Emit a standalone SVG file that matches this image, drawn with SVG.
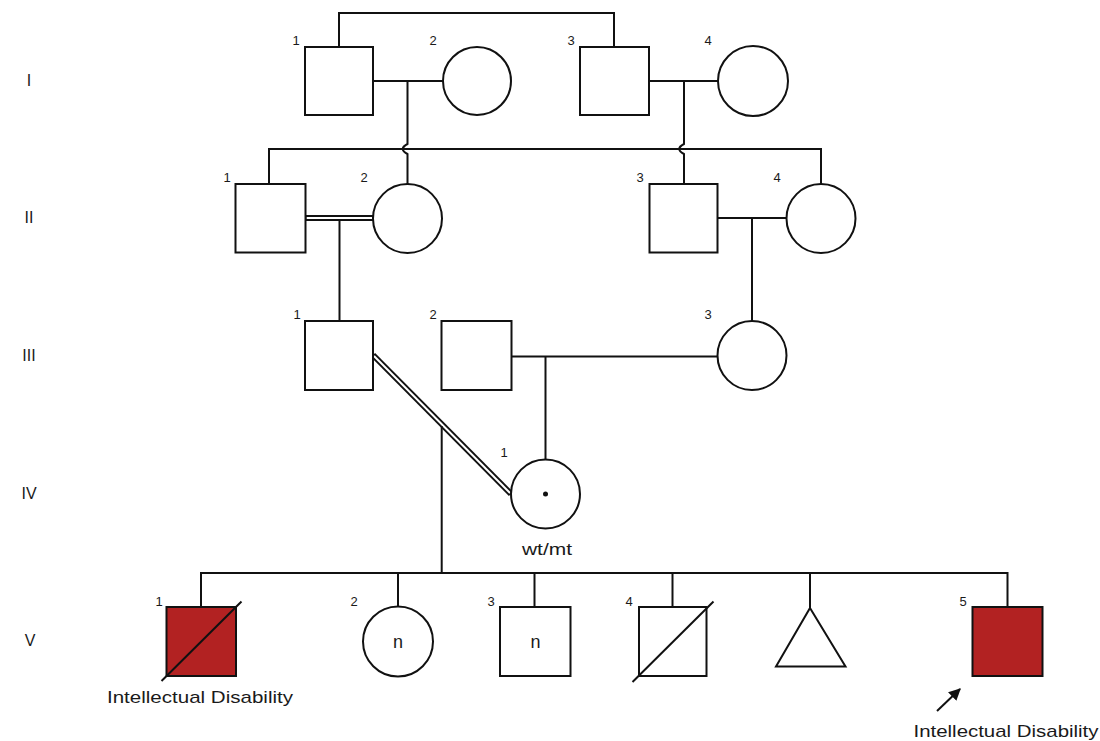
<svg xmlns="http://www.w3.org/2000/svg" width="1100" height="741" viewBox="0 0 1100 741">
<defs>
<style>
.s{fill:#fff;stroke:#111;stroke-width:2}
.a{fill:#b22222;stroke:#111;stroke-width:2}
.l{fill:none;stroke:#111;stroke-width:2}
.num{font-family:"Liberation Sans",Arial,sans-serif;font-size:13px;fill:#1a1a1a;text-anchor:middle}
.gen{font-family:"Liberation Sans",Arial,sans-serif;font-size:16px;fill:#1a1a1a;text-anchor:middle}
.lab{font-family:"Liberation Sans",Arial,sans-serif;font-size:17px;fill:#1a1a1a;text-anchor:middle}
</style>
<marker id="arr" viewBox="0 0 10 10" refX="9" refY="5" markerWidth="6" markerHeight="6" orient="auto" markerUnits="strokeWidth">
<path d="M0,0 L10,5 L0,10 z" fill="#111"/>
</marker>
</defs>
<rect width="1100" height="741" fill="#fff"/>
<g id="generations">
<text class="gen" x="29" y="86">I</text>
<text class="gen" x="29" y="223">II</text>
<text class="gen" x="29" y="361">III</text>
<text class="gen" x="29" y="499">IV</text>
<text class="gen" x="30" y="646">V</text>
</g>
<g id="connectors">
<path class="l" d="M339,47 V13 H614 V47"/>
<path class="l" d="M373,81 H443"/>
<path class="l" d="M407.5,81 V144 Q398,149 407.5,154 V184"/>
<path class="l" d="M649,81 H718"/>
<path class="l" d="M684,81 V144 Q674.5,149 684,154 V184"/>
<path class="l" d="M269,184 V149 H821 V184"/>
<path fill="none" stroke="#111" stroke-width="6" d="M305.5,218 H373"/>
<path fill="none" stroke="#fff" stroke-width="2" d="M306.5,218 H372"/>
<path class="l" d="M339.5,221 V321"/>
<path class="l" d="M717.5,218 H787"/>
<path class="l" d="M752,218 V321"/>
<path class="l" d="M511.5,356.5 H718"/>
<path class="l" d="M545.5,356.5 V460"/>
<path fill="none" stroke="#111" stroke-width="6" d="M373,355 L511,494"/>
<path fill="none" stroke="#fff" stroke-width="2" d="M374,356 L510,493"/>
<path class="l" d="M441.7,426 V573"/>
<path class="l" d="M201,607 V573 H1007.5 V607"/>
<path class="l" d="M398,573 V606"/>
<path class="l" d="M534.5,573 V607"/>
<path class="l" d="M672.5,573 V607"/>
<path class="l" d="M810,573 V608"/>
<path class="l" d="M937,711 L960,689" marker-end="url(#arr)"/>
</g>
<g id="I-1"><rect class="s" x="305" y="47" width="68" height="68"/><text class="num" x="296" y="45">1</text></g>
<g id="I-2"><circle class="s" cx="477" cy="81" r="34"/><text class="num" x="433" y="45">2</text></g>
<g id="I-3"><rect class="s" x="580" y="47" width="69" height="68"/><text class="num" x="571" y="45">3</text></g>
<g id="I-4"><circle class="s" cx="753" cy="81" r="35"/><text class="num" x="708" y="45">4</text></g>
<g id="II-1"><rect class="s" x="235.5" y="184" width="70" height="68.5"/><text class="num" x="227" y="182">1</text></g>
<g id="II-2"><circle class="s" cx="407.5" cy="218.5" r="34.5"/><text class="num" x="364" y="182">2</text></g>
<g id="II-3"><rect class="s" x="649.5" y="184" width="68" height="68.5"/><text class="num" x="640" y="182">3</text></g>
<g id="II-4"><circle class="s" cx="821" cy="218.5" r="34.5"/><text class="num" x="777" y="182">4</text></g>
<g id="III-1"><rect class="s" x="305" y="321" width="68" height="69"/><text class="num" x="297" y="319">1</text></g>
<g id="III-2"><rect class="s" x="441.5" y="321" width="70" height="69"/><text class="num" x="433" y="319">2</text></g>
<g id="III-3"><circle class="s" cx="752" cy="355.5" r="34.5"/><text class="num" x="708" y="319">3</text></g>
<g id="IV-1"><circle class="s" cx="545.5" cy="494" r="34.5"/><circle cx="545.5" cy="494" r="2.5" fill="#111"/><text class="num" x="504" y="457">1</text><text class="lab" x="547" y="555" textLength="50" lengthAdjust="spacingAndGlyphs">wt/mt</text></g>
<g id="V-1"><rect class="a" x="166.5" y="607" width="69.5" height="69"/><path class="l" d="M161.5,681 L241.5,601.5"/><text class="num" x="159" y="606">1</text><text class="lab" x="200" y="703" textLength="186" lengthAdjust="spacingAndGlyphs">Intellectual Disability</text></g>
<g id="V-2"><circle class="s" cx="398" cy="641.5" r="35"/><text class="num" x="354" y="606">2</text><text class="lab" x="398" y="648" style="font-size:18px">n</text></g>
<g id="V-3"><rect class="s" x="500" y="607" width="70.5" height="69"/><text class="num" x="491" y="606">3</text><text class="lab" x="535.5" y="648" style="font-size:18px">n</text></g>
<g id="V-4"><rect class="s" x="639" y="607" width="67.5" height="69"/><path class="l" d="M632.5,682 L713.5,601.5"/><text class="num" x="629" y="606">4</text></g>
<g id="V-unknown"><polygon class="s" points="810,608 845.5,666.5 776,666.5"/></g>
<g id="V-5"><rect class="a" x="972.5" y="607" width="70" height="69"/><text class="num" x="963" y="606">5</text><text class="lab" x="1006" y="737" textLength="185" lengthAdjust="spacingAndGlyphs">Intellectual Disability</text></g>
</svg>
